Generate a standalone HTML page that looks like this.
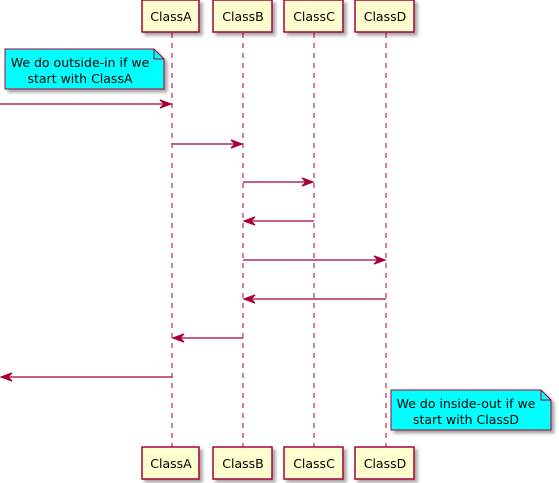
<!DOCTYPE html>
<html><head><style>body{margin:0;background:#fff}svg{display:block}</style></head><body>
<svg width="559" height="483" xmlns="http://www.w3.org/2000/svg" font-family="DejaVu Sans, Liberation Sans, sans-serif" font-size="12.5">
<defs><filter id="s" x="-20%" y="-20%" width="150%" height="160%"><feGaussianBlur in="SourceAlpha" stdDeviation="1.5"/><feOffset dx="3" dy="3"/><feComponentTransfer><feFuncA type="linear" slope="0.35"/></feComponentTransfer><feMerge><feMergeNode/><feMergeNode in="SourceGraphic"/></feMerge></filter></defs>
<g stroke="#A80036" stroke-dasharray="5,5" stroke-width="1">
<line x1="172" y1="33" x2="172" y2="447"/><line x1="243" y1="33" x2="243" y2="447"/><line x1="314" y1="33" x2="314" y2="447"/><line x1="386" y1="33" x2="386" y2="447"/>
</g>
<g fill="#FEFECE" stroke="#A80036" stroke-width="1.5" filter="url(#s)">
<rect x="142" y="0" width="57" height="32"/><rect x="213" y="0" width="59" height="32"/><rect x="284" y="0" width="59" height="32"/><rect x="355" y="0" width="59" height="32"/>
<rect x="142" y="447" width="57" height="32"/><rect x="213" y="447" width="59" height="32"/><rect x="284" y="447" width="59" height="32"/><rect x="355" y="447" width="59" height="32"/>
</g>
<g fill="#000" text-anchor="middle">
<text x="171" y="21">ClassA</text><text x="243" y="21">ClassB</text><text x="314" y="21">ClassC</text><text x="385" y="21">ClassD</text>
<text x="171" y="468">ClassA</text><text x="243" y="468">ClassB</text><text x="314" y="468">ClassC</text><text x="385" y="468">ClassD</text>
</g>
<g filter="url(#s)" stroke="#A80036" stroke-width="1">
<path d="M5,49 H154 L164,59 V89 H5 Z" fill="#00FFFF"/><path d="M154,49 V59 H164" fill="none"/>
<path d="M391,390 H541 L551,400 V430 H391 Z" fill="#00FFFF"/><path d="M541,390 V400 H551" fill="none"/>
</g>
<g fill="#000" text-anchor="middle">
<text x="80" y="67">We do outside-in if we</text><text x="80" y="83">start with ClassA</text>
<text x="466" y="408">We do inside-out if we</text><text x="466" y="424">start with ClassD</text>
</g>
<g stroke="#A80036" stroke-width="1.2" fill="#A80036">
<line x1="0" y1="104" x2="170" y2="104"/><path d="M160,100 L171,104 L160,108 L164,104 Z"/>
<line x1="172" y1="144" x2="241" y2="144"/><path d="M231,140 L242,144 L231,148 L235,144 Z"/>
<line x1="243" y1="182" x2="312" y2="182"/><path d="M302,178 L313,182 L302,186 L306,182 Z"/>
<line x1="245" y1="221" x2="314" y2="221"/><path d="M255,217 L244,221 L255,225 L251,221 Z"/>
<line x1="243" y1="260" x2="384" y2="260"/><path d="M374,256 L385,260 L374,264 L378,260 Z"/>
<line x1="245" y1="299" x2="386" y2="299"/><path d="M255,295 L244,299 L255,303 L251,299 Z"/>
<line x1="174" y1="338" x2="243" y2="338"/><path d="M184,334 L173,338 L184,342 L180,338 Z"/>
<line x1="2" y1="377" x2="172" y2="377"/><path d="M12,373 L1,377 L12,381 L8,377 Z"/>
</g>
</svg>
</body></html>
